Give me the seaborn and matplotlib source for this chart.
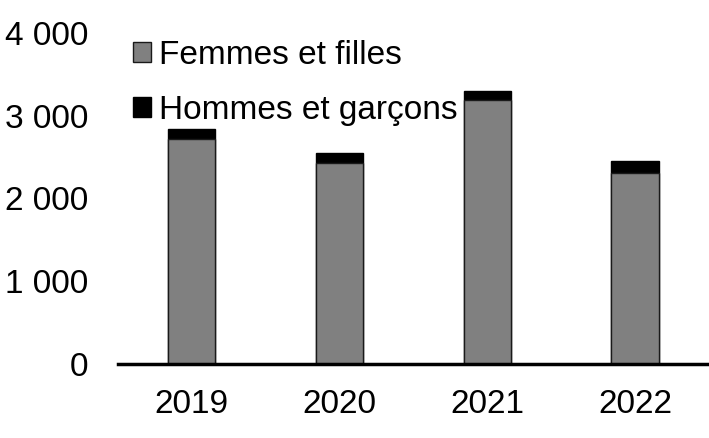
import matplotlib
matplotlib.use("Agg")
import matplotlib.pyplot as plt
import seaborn as sns
from matplotlib.patches import Patch
from matplotlib.ticker import FuncFormatter

# Données
annees = ["2019", "2020", "2021", "2022"]
femmes = [2715, 2425, 3190, 2305]
hommes = [130, 120, 110, 150]
totaux = [f + h for f, h in zip(femmes, hommes)]

sns.set_style("white")
plt.rcParams["font.family"] = ["Liberation Sans", "DejaVu Sans"]
plt.rcParams["text.color"] = "black"

fig = plt.figure(figsize=(7.09, 4.38), dpi=100)
ax = fig.add_axes([0.1664, 0.169, 0.8336, 0.7557])

# barre totale en noir, puis femmes en gris par-dessus
sns.barplot(x=annees, y=totaux, color="black", width=0.32, saturation=1,
            edgecolor="black", linewidth=1, ax=ax)
sns.barplot(x=annees, y=femmes, color="#808080", width=0.32, saturation=1,
            edgecolor="#1a1a1a", linewidth=1, ax=ax)

ax.set_xlim(-0.5, 3.5)
ax.set_ylim(0, 4000)
ax.set_yticks([0, 1000, 2000, 3000, 4000])
ax.yaxis.set_major_formatter(FuncFormatter(lambda v, p: f"{int(v):,}".replace(",", " ")))
ax.set_xlabel("")
ax.set_ylabel("")

for s in ["top", "right", "left"]:
    ax.spines[s].set_visible(False)
ax.spines["bottom"].set_linewidth(2.5)
ax.spines["bottom"].set_color("black")
ax.tick_params(axis="both", length=0, labelsize=24, colors="black")
ax.tick_params(axis="y", pad=21.5)
ax.tick_params(axis="x", pad=18)

handles = [Patch(facecolor="#808080", edgecolor="#1a1a1a", label="Femmes et filles"),
           Patch(facecolor="black", edgecolor="black", label="Hommes et garçons")]
ax.legend(handles=handles, loc="upper left", bbox_to_anchor=(0.025, 0.979),
          frameon=False, fontsize=24, handlelength=0.55, handleheight=0.55,
          handletextpad=0.25, labelspacing=0.72, borderpad=0, borderaxespad=0,
          labelcolor="black")

fig.savefig("out.png", dpi=100)
